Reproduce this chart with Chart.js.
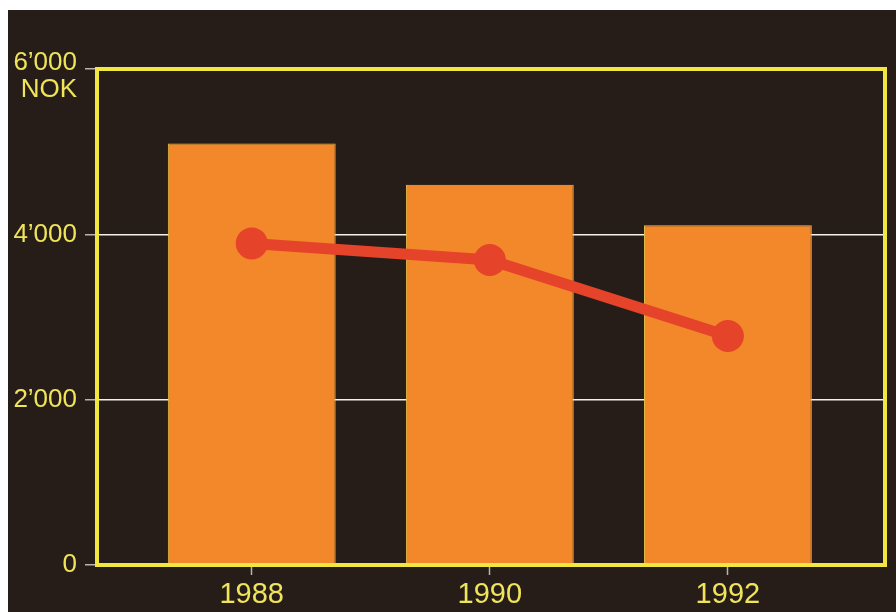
<!DOCTYPE html>
<html>
<head>
<meta charset="utf-8">
<script src="https://cdn.jsdelivr.net/npm/chart.js@4/dist/chart.umd.min.js"></script>
<style>
  html, body { margin: 0; padding: 0; background: #ffffff; }
  #wrap {
    position: absolute; left: 8px; top: 10px;
    width: 888px; height: 602px;
    background: #261d18;
  }
</style>
</head>
<body>
<div id="wrap"><canvas id="grafico" width="888" height="602"></canvas></div>
<script>
// dados
const anos = [1988, 1990, 1992];
const valoresBarras = [5100, 4600, 4110];
const valoresLinha = [3890, 3690, 2770];
const ticksY = [0, 2000, 4000, 6000];
const unidade = "NOK";

const AMARELO = "#f2e640";
const TEXTO = "#f0e45a";
const LARANJA = "#f2882a";
const VERMELHO = "#e5432a";
const FONTE = "'Liberation Sans', Arial, sans-serif";

// formata 6000 -> 6’000
function formatar(v) {
  if (v === 0) return "0";
  const s = String(v);
  return s.slice(0, -3) + "\u2019" + s.slice(-3);
}

// moldura amarela em volta da área do gráfico + rótulo do topo com a unidade
const moldura = {
  id: "moldura",
  afterDraw(chart) {
    const { ctx, chartArea: a, scales } = chart;
    const yTopo = scales.y.getPixelForValue(6000);
    ctx.save();
    ctx.strokeStyle = AMARELO;
    ctx.lineWidth = 4;
    ctx.strokeRect(a.left, a.top, a.right - a.left, a.bottom - a.top);
    ctx.fillStyle = TEXTO;
    ctx.font = "26px " + FONTE;
    ctx.textAlign = "right";
    ctx.textBaseline = "middle";
    ctx.fillText(formatar(6000), a.left - 20, yTopo - 6);
    ctx.fillText(unidade, a.left - 20, yTopo + 21);
    ctx.restore();
  }
};

const ctx = document.getElementById("grafico").getContext("2d");
new Chart(ctx, {
  data: {
    datasets: [
      {
        type: "line",
        data: anos.map((a, i) => ({ x: a, y: valoresLinha[i] })),
        borderColor: VERMELHO,
        borderWidth: 11,
        pointRadius: 16,
        pointBackgroundColor: VERMELHO,
        pointBorderWidth: 0,
        order: 0
      },
      {
        type: "bar",
        data: anos.map((a, i) => ({ x: a, y: valoresBarras[i] })),
        backgroundColor: LARANJA,
        borderColor: "#e9c24a",
        borderWidth: 1,
        categoryPercentage: 1,
        barPercentage: 0.705,
        order: 1
      }
    ]
  },
  options: {
    responsive: false,
    animation: false,
    layout: { autoPadding: false, padding: { top: 59, right: 11, left: 0, bottom: 0 } },
    plugins: { legend: { display: false }, tooltip: { enabled: false } },
    scales: {
      x: {
        type: "linear",
        offset: false,
        min: 1986.7,
        max: 1993.32,
        afterBuildTicks: (scale) => { scale.ticks = anos.map(v => ({ value: v })); },
        afterFit: (scale) => {
          scale.height = 47;
          scale.paddingLeft = 0;
          scale.paddingRight = 0;
        },
        border: { display: false },
        grid: { offset: false, drawOnChartArea: false, tickLength: 10, tickColor: "#b8b4a8", tickWidth: 1.5 },
        ticks: {
          color: TEXTO,
          font: { family: FONTE, size: 29 },
          padding: 3,
          maxRotation: 0,
          callback: (v) => String(v)
        }
      },
      y: {
        min: 0,
        max: 6000,
        afterBuildTicks: (scale) => { scale.ticks = ticksY.map(v => ({ value: v })); },
        afterFit: (scale) => {
          scale.width = 89;
          scale.paddingTop = 0;
          scale.paddingBottom = 0;
        },
        border: { display: false },
        grid: { color: "#f4f0ea", lineWidth: 1.5, tickLength: 12, tickColor: "#b8b4a8" },
        ticks: {
          color: TEXTO,
          font: { family: FONTE, size: 26 },
          padding: 8,
          callback: (v) => (v === 6000 ? "" : formatar(v))
        }
      }
    }
  },
  plugins: [moldura]
});
</script>
</body>
</html>
